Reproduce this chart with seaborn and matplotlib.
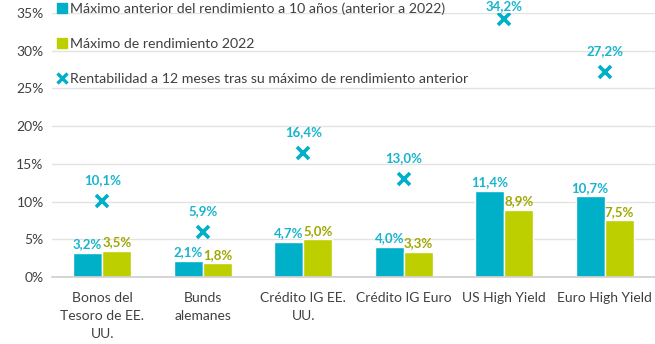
import matplotlib
matplotlib.use("Agg")
import matplotlib.pyplot as plt
import seaborn as sns
import pandas as pd
import numpy as np
from matplotlib.lines import Line2D

categories = ["Bonos del\nTesoro de EE.\nUU.", "Bunds\nalemanes", "Crédito IG EE.\nUU.",
              "Crédito IG Euro", "US High Yield", "Euro High Yield"]
prev_max = [3.2, 2.1, 4.7, 4.0, 11.4, 10.7]
max_2022 = [3.5, 1.8, 5.0, 3.3, 8.9, 7.5]
ret_12m = [10.1, 5.9, 16.4, 13.0, 34.2, 27.2]
series_names = ["Máximo anterior del rendimiento a 10 años (anterior a 2022)",
                "Máximo de rendimiento 2022"]
scatter_name = "Rentabilidad a 12 meses tras su máximo de rendimiento anterior"
yticks = [0, 5, 10, 15, 20, 25, 30, 35]

TEAL = "#00AFC8"
GREEN = "#BECF00"
GREEN_TXT = "#A0A800"
TEAL_TXT = "#18B4CC"
TXT = "#404040"

sns.set_theme(style="white")
plt.rcParams['font.family'] = ['Lato', 'DejaVu Sans']

df = pd.DataFrame({
    "cat": categories * 2,
    "val": prev_max + max_2022,
    "serie": [series_names[0]] * 6 + [series_names[1]] * 6,
})

fig = plt.figure(figsize=(6.55, 3.44), dpi=100)
ax = fig.add_axes([52 / 655, 1 - 277 / 344, 1 - 52 / 655, (277 - 13) / 344])

sns.barplot(data=df, x="cat", y="val", hue="serie", palette=[TEAL, GREEN],
            width=0.58, gap=0, ax=ax, legend=False, saturation=1)
sns.pointplot(x=categories, y=ret_12m, linestyle="none", marker="x", color=TEAL,
              markersize=9, markeredgewidth=2.6, ax=ax, errorbar=None)

# bar labels
for i, cont in enumerate(ax.containers[:2]):
    col = TEAL_TXT if i == 0 else GREEN_TXT
    vals = prev_max if i == 0 else max_2022
    for bar, v in zip(cont, vals):
        ax.text(bar.get_x() + bar.get_width() / 2, v + 0.35, f"{v:.1f}%".replace(".", ","),
                ha="center", va="bottom", color=col, fontsize=9.5, fontweight="bold", clip_on=False)
for i, v in enumerate(ret_12m):
    ax.text(i, min(v + 2.8, 35.9), f"{v:.1f}%".replace(".", ","), ha="center", va="center",
            color=TEAL_TXT, fontsize=9.5, fontweight="bold", clip_on=False)

ax.set_ylim(0, 35)
ax.set_xlim(-0.5, 5.5)
ax.set_yticks(yticks)
ax.set_yticklabels([f"{t}%" for t in yticks], color=TXT, fontsize=10)
ax.set_xticks(range(len(categories)))
ax.set_xticklabels(categories, color=TXT, fontsize=10, linespacing=1.6, va="top")
ax.tick_params(axis="x", length=0, pad=11)
ax.tick_params(axis="y", length=0, pad=6)
ax.set_xticks(np.arange(-0.5, 6, 1), minor=True)
ax.tick_params(axis="x", which="minor", length=5, color="#d0d0d0", width=1)
ax.set_xlabel("")
ax.set_ylabel("")
ax.grid(axis="y", color="#e3e3e3", linewidth=1)
ax.set_axisbelow(True)
for s in ["left", "right", "top"]:
    ax.spines[s].set_visible(False)
ax.spines["bottom"].set_color("#d0d0d0")

handles = [
    Line2D([], [], marker="s", linestyle="none", color=TEAL, markersize=6.5),
    Line2D([], [], marker="s", linestyle="none", color=GREEN, markersize=6.5),
    Line2D([], [], marker="x", linestyle="none", color=TEAL, markersize=7, markeredgewidth=2.4),
]
leg = ax.legend(handles, series_names + [scatter_name], loc="upper left",
                bbox_to_anchor=(0.0, 1.06), frameon=False, fontsize=10.2,
                handlelength=0.6, handletextpad=0.3, labelspacing=1.6, borderaxespad=0)
for t in leg.get_texts():
    t.set_color(TXT)

fig.savefig("out.png", dpi=100)
